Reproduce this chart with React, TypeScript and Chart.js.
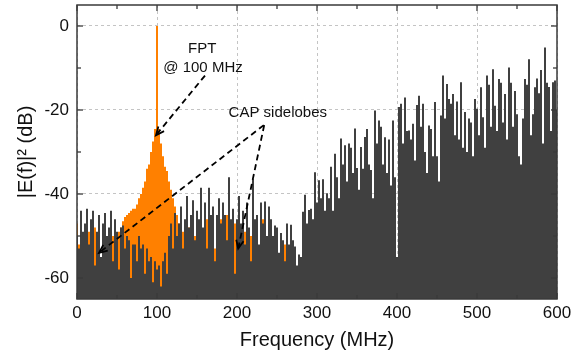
import React, { useEffect, useRef } from "react";
import { Chart, registerables } from "chart.js";

Chart.register(...registerables);

// Sample spacing of both spectra (MHz)
const FREQ_STEP_MHZ = 2.5;

// Gray spectrum |E(f)|^2 in dB, one value every 2.5 MHz from 0 to 600 MHz
const GRAY_DB: number[] = [
  -50, -53, -44, -49, -47, -43.5, -52, -46, -44, -57, // 0 - 22.5
  -49, -45, -55, -47, -44.5, -50, -48, -44, -56, -46, // 25 - 47.5
  -49, -58, -48, -47.5, -53, -50, -51, -60, -52, -52, // 50 - 72.5
  -56, -50, -53, -52, -59, -53, -56, -55, -61, -56, // 75 - 97.5
  -58, -57, -62, -56, -54, -59, -50, -47, -53, -44.5, // 100 - 122.5
  -50, -47, -43, -53, -46, -40.5, -48, -45, -41.5, -51, // 125 - 147.5
  -44, -46, -38.5, -48, -42, -53, -38.5, -45, -43, -56, // 150 - 172.5
  -45, -41, -47, -42, -45, -51, -36, -46, -43.5, -59, // 175 - 197.5
  -46, -40.5, -47, -44, -52, -42, -48, -56, -36.5, -46, // 200 - 222.5
  -45, -52, -42, -47, -41.8, -50, -43, -46, -50, -47.5, // 225 - 247.5
  -48, -54, -49.3, -51, -56, -47, -52, -47.3, -51, -52.5, // 250 - 272.5
  -57, -54.4, -55, -44.2, -40.2, -47, -43.8, -43.5, -46, -34.8, // 275 - 297.5
  -42, -36.7, -41, -36.5, -44, -39.8, -41, -33.5, -44, -30.4, // 300 - 322.5
  -36, -41, -26.8, -33, -28.4, -37, -28, -29, -35, -24.4, // 325 - 347.5
  -33.8, -39, -28.8, -34, -26.4, -24.5, -33, -34.3, -41, -20.1, // 350 - 372.5
  -28, -22.5, -24, -33, -26.5, -35, -27, -38, -22.5, -36, // 375 - 397.5
  -55, -19.3, -18.5, -28, -17, -25, -24.9, -27, -23.3, -32, // 400 - 422.5
  -18.8, -16.6, -24, -18.5, -30, -35, -23.7, -24.5, -31, -18.1, // 425 - 447.5
  -31, -37, -21.3, -11.8, -22, -13.8, -17.4, -18.5, -16.2, -26, // 450 - 472.5
  -18, -27, -13.4, -29, -20.5, -30, -22, -23, -31, -17.4, // 475 - 497.5
  -19.7, -26, -14.6, -21.7, -29, -11.8, -14, -24, -10.3, -19, // 500 - 522.5
  -25, -12.6, -13.5, -23, -16.2, -27, -9.9, -13.5, -24, -15.5, // 525 - 547.5
  -21, -31, -33, -22, -12.6, -14, -7.9, -26, -21, -14.6, // 550 - 572.5
  -12.5, -16, -10.5, -28, -5.1, -13.5, -14.5, -25, -13.4, -13, // 575 - 597.5
  -20, // 600
];

// Orange (FPT) spectrum in dB, one value every 2.5 MHz from 0 to 290 MHz
const ORANGE_DB: number[] = [
  -47, -52, -48, -55, -50, -53, -49, -56, -51, -48, // 0 - 22.5
  -54, -50, -57, -52, -49, -55, -51, -53, -50, -47, // 25 - 47.5
  -52, -49, -48, -46.5, -45.5, -45, -44.5, -44, -43.5, -43.5, // 50 - 72.5
  -42.5, -41, -40, -38.5, -37, -34, -33, -30, -27.5, -24.5, // 75 - 97.5
  0, -24.5, -28, -31, -33.5, -34.5, -37, -39, -41, -43, // 100 - 122.5
  -45, -47, -48, -49, -48, -51, -48, -51, -46, -50, // 125 - 147.5
  -53, -47, -51, -49, -54, -46, -52, -50, -47, -53, // 150 - 172.5
  -49, -51, -46, -52, -48, -45, -51, -49, -55, -47, // 175 - 197.5
  -52, -50, -48, -53, -49, -47.6, -52, -50, -54, -51, // 200 - 222.5
  -48, -53, -45, -46, -52, -50, -55, -51, -53, -56, // 225 - 247.5
  -52, -55, -54, -57, -52, -56, -55, -58, -56, -57, // 250 - 272.5
  -59, -58, -60, -60, -61, -62, -63, // 275 - 290
];

const X_TICKS = [0, 100, 200, 300, 400, 500, 600];
const X_MINOR_TICKS = [50, 150, 250, 350, 450, 550];
const Y_TICKS = [0, -20, -40, -60];
const Y_MINOR_TICKS = [-10, -30, -50];

const X_TITLE = "Frequency (MHz)";
const Y_TITLE = "|E(f)|\u00B2 (dB)";

// Annotation texts, anchored in data units (MHz, dB)
const NOTE_TEXTS = [
  { text: "FPT", f: 156.5, db: -5.4 },
  { text: "@ 100 MHz", f: 157.5, db: -9.9 },
  { text: "CAP sidelobes", f: 251, db: -20.6 },
];
// Dashed arrows, anchored in data units (MHz, dB)
const NOTE_ARROWS = [
  { f0: 160, db0: -11.8, f1: 98.75, db1: -26 },
  { f0: 233.5, db0: -23.6, f1: 27.5, db1: -54 },
  { f0: 234, db0: -23.6, f1: 201.5, db1: -53 },
];

const FONT = "'Liberation Sans', Arial, Helvetica, sans-serif";
const GRAY = "#404040";
const ORANGE = "#ff8000";
const FRAME = "#3a3a3a";

const decorPlugin = {
  id: "decor",
  afterDatasetsDraw(chart: any) {
    const { ctx, chartArea: a, scales } = chart;
    const xs = scales.x;
    const ys = scales.y;
    const seg = (x0: number, y0: number, x1: number, y1: number) => {
      ctx.beginPath();
      ctx.moveTo(x0, y0);
      ctx.lineTo(x1, y1);
      ctx.stroke();
    };
    ctx.save();
    ctx.strokeStyle = FRAME;
    ctx.lineWidth = 1.3;
    const xt = [...X_TICKS.map((v) => [v, 6]), ...X_MINOR_TICKS.map((v) => [v, 4])];
    for (const [v, len] of xt) {
      const px = xs.getPixelForValue(v);
      seg(px, a.top, px, a.top + len);
      seg(px, a.bottom, px, a.bottom - len);
    }
    const yt = [...Y_TICKS.map((v) => [v, 6]), ...Y_MINOR_TICKS.map((v) => [v, 4])];
    for (const [v, len] of yt) {
      const py = ys.getPixelForValue(v);
      seg(a.left, py, a.left + len, py);
      seg(a.right, py, a.right - len, py);
    }
    ctx.lineWidth = 1.5;
    ctx.strokeRect(a.left, a.top, a.right - a.left, a.bottom - a.top);

    // arrows
    ctx.strokeStyle = "#000";
    ctx.lineWidth = 1.8;
    for (const ar of NOTE_ARROWS) {
      const x0 = xs.getPixelForValue(ar.f0);
      const y0 = ys.getPixelForValue(ar.db0);
      const x1 = xs.getPixelForValue(ar.f1);
      const y1 = ys.getPixelForValue(ar.db1);
      ctx.setLineDash([6, 4]);
      seg(x0, y0, x1, y1);
      ctx.setLineDash([]);
      const ang = Math.atan2(y1 - y0, x1 - x0);
      const L = 9;
      const spread = 0.42;
      ctx.beginPath();
      ctx.moveTo(x1 - L * Math.cos(ang - spread), y1 - L * Math.sin(ang - spread));
      ctx.lineTo(x1, y1);
      ctx.lineTo(x1 - L * Math.cos(ang + spread), y1 - L * Math.sin(ang + spread));
      ctx.stroke();
    }
    // texts
    ctx.fillStyle = "#111";
    ctx.font = `15px ${FONT}`;
    ctx.textAlign = "center";
    ctx.textBaseline = "middle";
    for (const n of NOTE_TEXTS) {
      ctx.fillText(n.text, xs.getPixelForValue(n.f), ys.getPixelForValue(n.db));
    }
    ctx.restore();
  },
};

export default function App() {
  const ref = useRef<HTMLCanvasElement>(null);
  useEffect(() => {
    const canvas = ref.current!;
    const gray = GRAY_DB.map((y, i) => ({ x: i * FREQ_STEP_MHZ, y }));
    const orange = ORANGE_DB.map((y, i) => ({ x: i * FREQ_STEP_MHZ, y }));
    const chart = new Chart(canvas, {
      type: "line",
      data: {
        datasets: [
          {
            label: "CAP",
            data: gray,
            stepped: "middle",
            fill: "start",
            backgroundColor: GRAY,
            borderColor: "rgba(0,0,0,0)",
            borderWidth: 0,
            pointRadius: 0,
          },
          {
            label: "FPT",
            data: orange,
            stepped: "middle",
            fill: "start",
            backgroundColor: ORANGE,
            borderColor: "rgba(0,0,0,0)",
            borderWidth: 0,
            pointRadius: 0,
          },
        ],
      } as any,
      options: {
        animation: false,
        responsive: false,
        devicePixelRatio: 1,
        events: [],
        layout: { padding: { left: 0, right: 15, top: 5, bottom: 0 } },
        plugins: { legend: { display: false }, tooltip: { enabled: false } },
        scales: {
          x: {
            type: "linear",
            min: 0,
            max: 600,
            afterFit: (s: any) => {
              s.height = 56;
              s.paddingLeft = 0;
              s.paddingRight = 0;
            },
            afterBuildTicks: (s: any) => {
              s.ticks = X_TICKS.map((v) => ({ value: v }));
            },
            ticks: {
              font: { family: FONT, size: 17 },
              color: "#111",
              padding: 4,
              maxRotation: 0,
              autoSkip: false,
            },
            grid: { color: "#c4c4c4", lineWidth: 1, drawTicks: false },
            border: { display: false, dash: [3, 3] },
            title: {
              display: true,
              text: X_TITLE,
              font: { family: FONT, size: 20 },
              color: "#111",
              padding: { top: 0, bottom: 3 },
            },
          },
          y: {
            type: "linear",
            min: -65,
            max: 5,
            afterFit: (s: any) => {
              s.width = 77;
              s.paddingTop = 0;
              s.paddingBottom = 0;
            },
            afterBuildTicks: (s: any) => {
              s.ticks = Y_TICKS.map((v) => ({ value: v }));
            },
            ticks: {
              font: { family: FONT, size: 17 },
              color: "#111",
              padding: 8,
            },
            grid: { color: "#c4c4c4", lineWidth: 1, drawTicks: false },
            border: { display: false, dash: [3, 3] },
            title: {
              display: true,
              text: Y_TITLE,
              font: { family: FONT, size: 20 },
              color: "#111",
              padding: { top: 14, bottom: 0 },
            },
          },
        },
      } as any,
      plugins: [decorPlugin],
    });
    return () => chart.destroy();
  }, []);
  return (
    <div style={{ position: "fixed", left: 0, top: 0, width: 572, height: 355, background: "#fff" }}>
      <canvas ref={ref} width={572} height={355} style={{ display: "block" }} />
    </div>
  );
}
